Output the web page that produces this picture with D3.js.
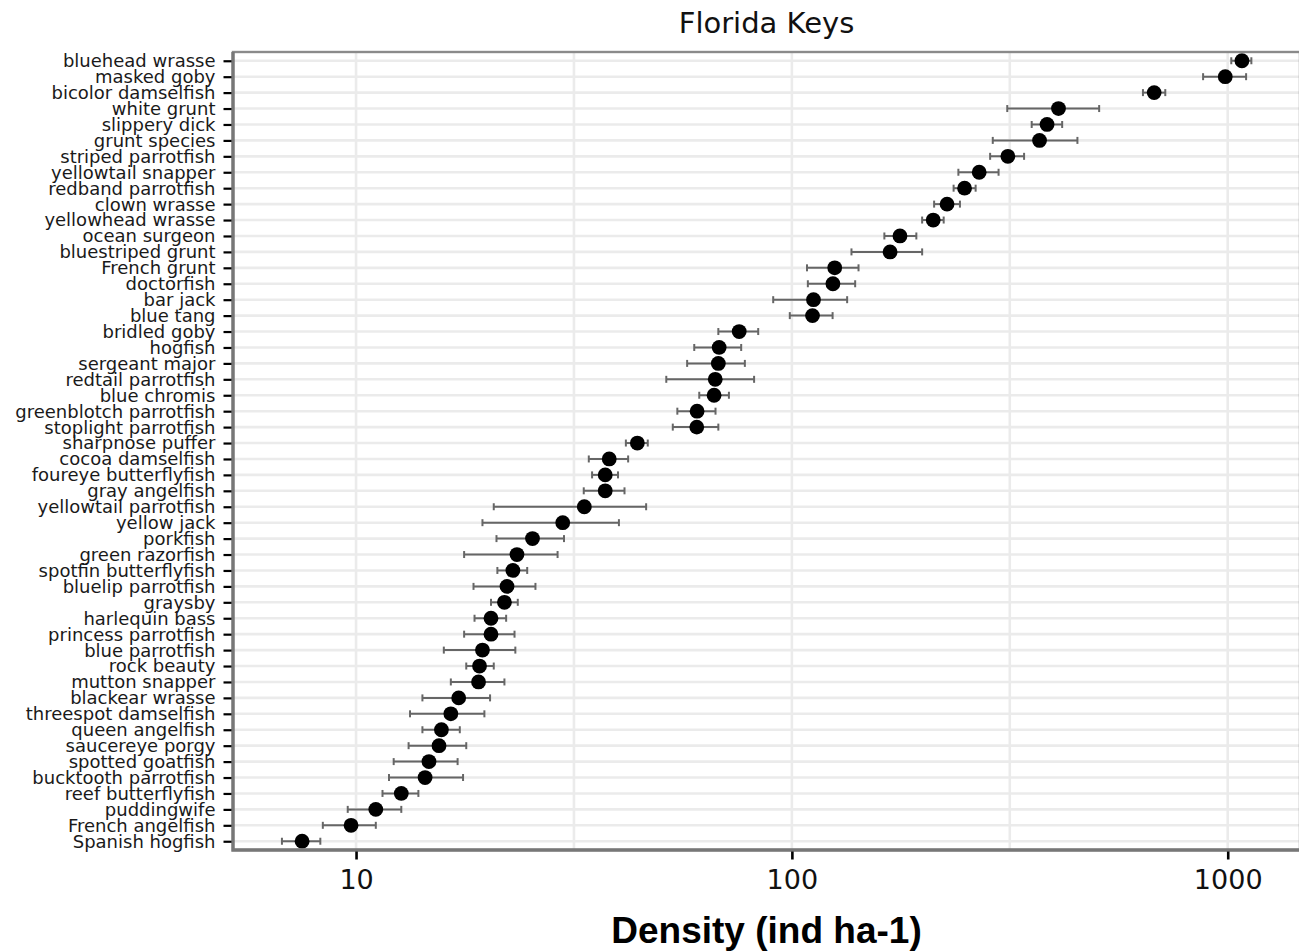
<!DOCTYPE html>
<html>
<head>
<meta charset="utf-8">
<script src="https://cdn.jsdelivr.net/npm/d3@7"></script>
<style>
	body { margin: 0; background: #fff; }
	svg { display: block; }
	.y-axis text { font-family: 'DejaVu Sans', sans-serif; font-size: 18px; fill: #1a1a1a; }
	.x-axis text { font-family: 'DejaVu Sans', sans-serif; font-size: 27px; fill: #111; }
	.title { font-family: 'DejaVu Sans', sans-serif; font-size: 29px; fill: #111; }
	.axis-label { font-family: 'Liberation Sans', Arial, sans-serif; font-size: 37px; font-weight: bold; fill: #000; }
</style>
</head>
<body>
<svg width="1299" height="952"></svg>
<script>
const species = ['bluehead wrasse', 'masked goby', 'bicolor damselfish', 'white grunt', 'slippery dick',
	'grunt species', 'striped parrotfish', 'yellowtail snapper', 'redband parrotfish', 'clown wrasse',
	'yellowhead wrasse', 'ocean surgeon', 'bluestriped grunt', 'French grunt', 'doctorfish', 'bar jack',
	'blue tang', 'bridled goby', 'hogfish', 'sergeant major', 'redtail parrotfish', 'blue chromis',
	'greenblotch parrotfish', 'stoplight parrotfish', 'sharpnose puffer', 'cocoa damselfish',
	'foureye butterflyfish', 'gray angelfish', 'yellowtail parrotfish', 'yellow jack', 'porkfish',
	'green razorfish', 'spotfin butterflyfish', 'bluelip parrotfish', 'graysby', 'harlequin bass',
	'princess parrotfish', 'blue parrotfish', 'rock beauty', 'mutton snapper', 'blackear wrasse',
	'threespot damselfish', 'queen angelfish', 'saucereye porgy', 'spotted goatfish',
	'bucktooth parrotfish', 'reef butterflyfish', 'puddingwife', 'French angelfish', 'Spanish hogfish'];

const density = [1078, 987, 678, 409, 385, 370, 313, 269, 249, 227, 211, 177, 168, 125.4, 124.2, 112.1,
	111.5, 75.7, 68.1, 67.8, 66.7, 66.3, 60.6, 60.5, 44.2, 38.1, 37.3, 37.3, 33.4, 29.8, 25.4, 23.4, 22.9,
	22.2, 21.9, 20.4, 20.4, 19.5, 19.2, 19.1, 17.2, 16.5, 15.7, 15.5, 14.7, 14.4, 12.7, 11.1, 9.74, 7.52];

const lower = [1019, 878, 639, 312, 355, 289, 285, 241, 235, 212, 199, 163, 137, 108.3, 108.8, 90.6,
	98.9, 67.8, 59.7, 57.5, 51.5, 61.3, 54.6, 53.3, 41.6, 34.2, 34.8, 33.3, 20.7, 19.5, 21.0, 17.7, 21.1,
	18.6, 20.4, 18.7, 17.7, 15.9, 17.9, 16.5, 14.2, 13.3, 14.2, 13.2, 12.2, 11.9, 11.5, 9.57, 8.39, 6.76];

const upper = [1133, 1102, 719, 507, 417, 452, 341, 298, 264, 243, 223, 193, 199, 142.2, 139.7, 133.9,
	124.0, 83.7, 76.5, 78.0, 81.9, 71.7, 66.8, 67.8, 46.7, 42.1, 39.9, 41.3, 46.3, 40.1, 30.0, 29.0, 24.7,
	25.8, 23.5, 22.1, 23.1, 23.2, 20.7, 21.9, 20.3, 19.7, 17.3, 17.9, 17.1, 17.6, 13.9, 12.7, 11.1, 8.28];

const majorTicks = [10, 100, 1000];
const minorTicks = [31.62, 316.2];
const xDomain = [5.22, 1465];

const title = 'Florida Keys';
const xTitle = 'Density (ind ha-1)';

const svg = d3.select('svg');
const width = +svg.attr('width');
const height = +svg.attr('height');

const render = data => {
	const margin = {top: 52, right: -1, bottom: 102, left: 233};
	const innerWidth = width - margin.left - margin.right;
	const innerHeight = height - margin.top - margin.bottom;

	const xScale = d3.scaleLog()
		.domain(xDomain)
		.range([0, innerWidth]);

	const yScale = d3.scalePoint()
		.domain(species)
		.range([0, innerHeight])
		.padding(0.55);

	const g = svg.append('g')
		.attr('transform', `translate(${margin.left}, ${margin.top})`);

	// grid
	g.append('g').selectAll('line.hgrid')
		.data(species).enter().append('line')
			.attr('x1', 0).attr('x2', innerWidth)
			.attr('y1', d => yScale(d)).attr('y2', d => yScale(d))
			.attr('stroke', '#ebebeb')
			.attr('stroke-width', 2.6);

	g.append('g').selectAll('line.vgrid')
		.data(majorTicks.concat(minorTicks)).enter().append('line')
			.attr('x1', d => xScale(d)).attr('x2', d => xScale(d))
			.attr('y1', 0).attr('y2', innerHeight)
			.attr('stroke', '#ebebeb')
			.attr('stroke-width', 2.6);

	// error bars
	const bars = g.append('g').selectAll('g')
		.data(data).enter().append('g')
			.attr('stroke', '#666')
			.attr('stroke-width', 2);

	bars.append('line')
		.attr('x1', d => xScale(d.lower)).attr('x2', d => xScale(d.upper))
		.attr('y1', d => yScale(d.species)).attr('y2', d => yScale(d.species));

	bars.append('line')
		.attr('x1', d => xScale(d.lower)).attr('x2', d => xScale(d.lower))
		.attr('y1', d => yScale(d.species) - 3.5).attr('y2', d => yScale(d.species) + 3.5);

	bars.append('line')
		.attr('x1', d => xScale(d.upper)).attr('x2', d => xScale(d.upper))
		.attr('y1', d => yScale(d.species) - 3.5).attr('y2', d => yScale(d.species) + 3.5);

	g.append('g').selectAll('circle')
		.data(data).enter().append('circle')
			.attr('cx', d => xScale(d.density))
			.attr('cy', d => yScale(d.species))
			.attr('r', 7.4)
			.attr('fill', '#000');

	// panel border
	g.append('rect')
		.attr('width', innerWidth)
		.attr('height', innerHeight)
		.attr('fill', 'none')
		.attr('stroke', '#8a8a8a')
		.attr('stroke-width', 2.4);

	g.append('path')
		.attr('d', `M0,0V${innerHeight}H${innerWidth}`)
		.attr('fill', 'none')
		.attr('stroke', '#777')
		.attr('stroke-width', 3.4);

	const yAxis = d3.axisLeft(yScale)
		.tickSize(8)
		.tickPadding(8);

	const yAxisG = g.append('g')
		.attr('class', 'y-axis')
		.attr('transform', 'translate(-1.5, 0)')
		.call(yAxis);
	yAxisG.select('.domain').remove();
	yAxisG.selectAll('.tick line')
		.attr('stroke', '#000')
		.attr('stroke-width', 2.2);
	yAxisG.selectAll('.tick text')
		.attr('dy', '0.33em');

	const xAxis = d3.axisBottom(xScale)
		.tickValues(majorTicks)
		.tickFormat(d3.format('d'))
		.tickSize(8)
		.tickPadding(10);

	const xAxisG = g.append('g')
		.attr('class', 'x-axis')
		.attr('transform', `translate(0, ${innerHeight + 1.5})`)
		.call(xAxis);
	xAxisG.select('.domain').remove();
	xAxisG.selectAll('.tick line')
		.attr('stroke', '#000')
		.attr('stroke-width', 2.6);

	svg.append('text')
		.attr('class', 'axis-label')
		.attr('x', margin.left + innerWidth / 2)
		.attr('y', 943)
		.attr('text-anchor', 'middle')
		.text(xTitle);

	svg.append('text')
		.attr('class', 'title')
		.attr('x', margin.left + innerWidth / 2)
		.attr('y', 33)
		.attr('text-anchor', 'middle')
		.text(title);
};

const data = species.map((s, i) => ({
	species: s,
	density: density[i],
	lower: lower[i],
	upper: upper[i]
}));

render(data);
</script>
</body>
</html>
